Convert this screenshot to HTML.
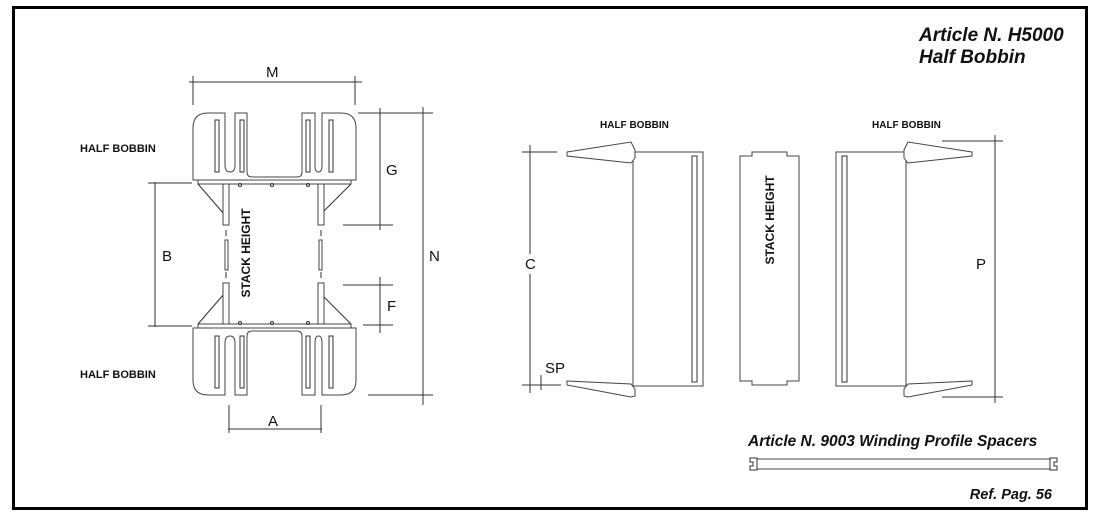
<!DOCTYPE html>
<html><head><meta charset="utf-8"><style>
html,body{margin:0;padding:0;background:#fff}
svg{display:block}
text{font-family:"Liberation Sans",Arial,sans-serif;fill:#111}
.l{stroke:#333;stroke-width:1;fill:none}
.s{stroke:#444;stroke-width:1;fill:#fff}
.b{font-weight:bold}
.d{font-size:15px}
.t{font-weight:bold;font-style:italic}
</style></head><body>
<svg width="1096" height="521" viewBox="0 0 1096 521" xmlns="http://www.w3.org/2000/svg">
<rect x="13.5" y="7.5" width="1073" height="501" fill="#fff" stroke="#000" stroke-width="3"/>
<text class="t" x="919" y="41" font-size="19">Article N. H5000</text>
<text class="t" x="919" y="63" font-size="19">Half Bobbin</text>

<defs>
<g id="bob">
<path class="s" d="M193,180 V128 Q193,113 208,113 H225 V165 Q225,172 230,172 Q235,172 235,165 V113 H247 V172 Q247,177 252,177 H297 Q302,177 302,172 V113 H315 V165 Q315,172 318.5,172 Q322,172 322,165 V113 H341 Q356,113 356,128 V180 Z"/>
<rect class="l" x="215" y="120" width="4" height="52"/>
<rect class="l" x="240" y="120" width="4" height="52"/>
<rect class="l" x="306" y="120" width="4" height="52"/>
<rect class="l" x="329" y="120" width="4" height="52"/>
<rect class="s" x="198" y="180" width="153" height="4"/>
<circle class="l" cx="240" cy="185" r="1.5"/><circle class="l" cx="272" cy="185" r="1.5"/><circle class="l" cx="308" cy="185" r="1.5"/>
<path class="l" d="M198,184 L224,214 M351,184 L321,214"/>
<rect class="s" x="223" y="184" width="6" height="41"/>
<rect class="s" x="318" y="184" width="6" height="41"/>
<line class="l" x1="226" y1="230" x2="226" y2="236"/>
<line class="l" x1="321" y1="230" x2="321" y2="236"/>
</g>
</defs>
<use href="#bob"/>
<use href="#bob" transform="translate(0,508) scale(1,-1)"/>
<rect class="s" x="225" y="240" width="3" height="30"/>
<rect class="s" x="319" y="240" width="3" height="30"/>
<text class="b" x="0" y="0" transform="translate(250,253) rotate(-90)" text-anchor="middle" style="font-size:12px">STACK HEIGHT</text>

<text class="b" x="80" y="152" style="font-size:11px">HALF BOBBIN</text>
<text class="b" x="80" y="378" style="font-size:11px">HALF BOBBIN</text>

<path class="l" d="M189,82 H362 M193,76 V105 M355,76 V105"/>
<text class="d" x="266" y="77">M</text>
<path class="l" d="M358,113 H408 M380,108 V230 M343,225 H393"/>
<text class="d" x="386" y="175">G</text>
<path class="l" d="M368,113 H433 M423,107 V405 M368,395 H433"/>
<text class="d" x="429" y="261">N</text>
<path class="l" d="M343,285 H393 M380,277 V333 M363,325 H393"/>
<text class="d" x="387" y="311">F</text>
<path class="l" d="M148,183 H192 M155,182 V327 M148,326 H192"/>
<text class="d" x="162" y="261">B</text>
<path class="l" d="M229,405 V433 M321,405 V433 M228,429 H322"/>
<text class="d" x="268" y="426">A</text>

<g>
<rect class="s" x="633" y="152" width="70" height="234"/>
<path class="l" d="M692,156 V382 H697 V156 Z"/>
<path class="s" d="M567,152 L631,142 L635,150 V158 L631,163 L567,156 Z"/>
<path class="s" d="M567,381 L631,384 L635,389 V396 L631,397 L567,385 Z"/>
</g>
<g transform="translate(1539,0) scale(-1,1)">
<rect class="s" x="633" y="152" width="70" height="234"/>
<path class="l" d="M692,156 V382 H697 V156 Z"/>
<path class="s" d="M567,152 L631,142 L635,150 V158 L631,163 L567,156 Z"/>
<path class="s" d="M567,381 L631,384 L635,389 V396 L631,397 L567,385 Z"/>
</g>
<path class="s" d="M740,156 H752 V152 H787 V156 H799 V381 H787 V385 H752 V381 H740 Z"/>
<text class="b" x="0" y="0" transform="translate(774,220) rotate(-90)" text-anchor="middle" style="font-size:12px">STACK HEIGHT</text>
<text class="b" x="600" y="128" style="font-size:10px">HALF BOBBIN</text>
<text class="b" x="872" y="128" style="font-size:10px">HALF BOBBIN</text>

<path class="l" d="M522,152 H557 M530,145 V393 M522,385 H561 M541,375 V390"/>
<rect x="523" y="254" width="15" height="20" fill="#fff"/>
<text class="d" x="525" y="269">C</text>
<text class="d" x="545" y="373">SP</text>
<path class="l" d="M942,141 H1003 M995,135 V403 M942,397 H1003"/>
<text class="d" x="976" y="269">P</text>

<text class="t" x="748" y="446" font-size="15.5">Article N. 9003 Winding Profile Spacers</text>
<rect x="757" y="459" width="293" height="10" fill="#fff" stroke="#444" stroke-width="1"/>
<path class="l" d="M750,458 H757 V470 H750 V466 H753 V462 H750 Z M1057,458 H1050 V470 H1057 V466 H1054 V462 H1057 Z"/>
<text class="t" x="1052" y="499" font-size="14.5" text-anchor="end">Ref. Pag. 56</text>
</svg>
</body></html>
